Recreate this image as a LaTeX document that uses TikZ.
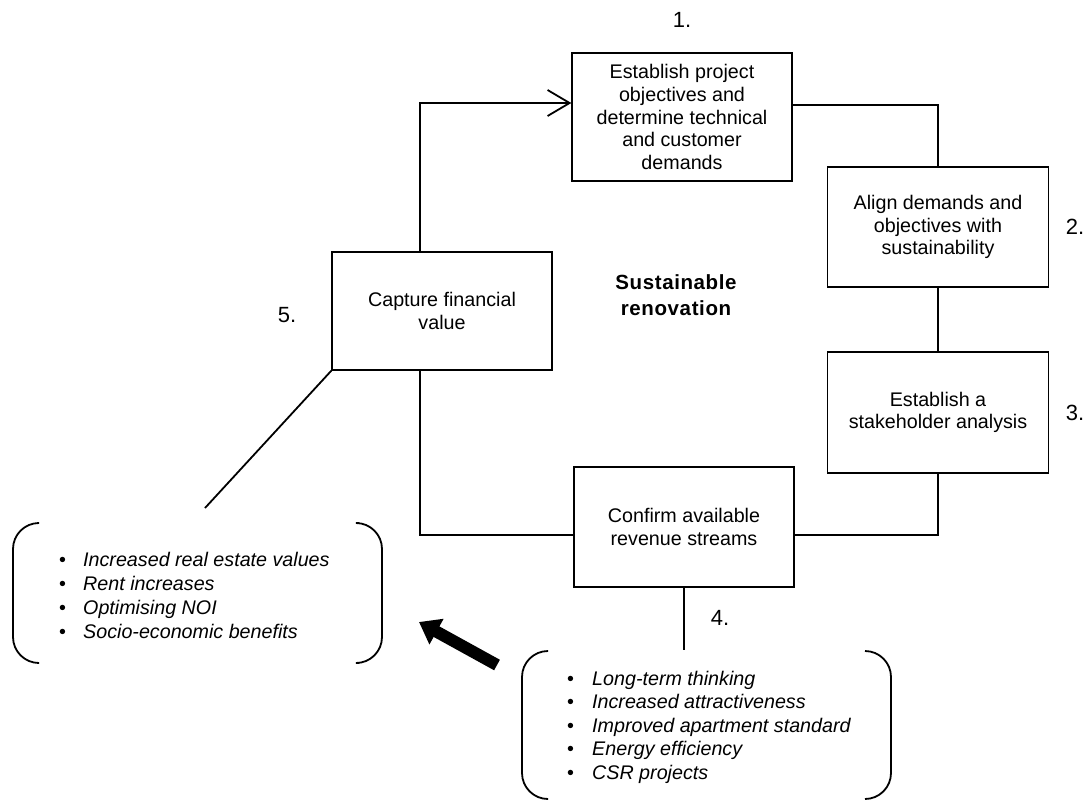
\documentclass[tikz,border=0pt]{standalone}
\usepackage{fontspec}
\setmainfont{Liberation Sans}
\usetikzlibrary{arrows.meta}
\begin{document}
\begin{tikzpicture}[x=1pt,y=-1pt,
  box/.style={draw, line width=1.3pt, align=center, inner sep=0pt,
    font=\fontsize{19.7}{22.7}\selectfont},
  flow/.style={line width=1.8pt},
  bracketline/.style={line width=1.8pt, rounded corners=26pt},
  listtext/.style={align=left, inner sep=0pt, anchor=west},
  num/.style={font=\fontsize{22}{24}\selectfont, inner sep=0pt}]
\useasboundingbox (0,0) rectangle (1090,801);

% boxes
\node[box, minimum width=220pt, minimum height=128pt] (b1) at (682,117)
  {Establish project\\objectives and\\determine technical\\and customer\\demands};
\node[box, minimum width=221pt, minimum height=120pt] (b2) at (938,227)
  {Align demands and\\objectives with\\sustainability};
\node[box, minimum width=221pt, minimum height=121pt] (b3) at (938,412.5)
  {Establish a\\stakeholder analysis};
\node[box, minimum width=220pt, minimum height=120pt] (b4) at (684,527)
  {Confirm available\\revenue streams};
\node[box, minimum width=220pt, minimum height=118pt] (b5) at (442,311)
  {Capture financial\\value};

% centre title
\node[align=center, inner sep=0pt,
  font=\fontsize{20.5}{26}\selectfont\bfseries\addfontfeature{LetterSpace=3}] (title) at (676,295)
  {Sustainable\\renovation};

% step numbers
\node[num] (n1) at (682,20) {1.};
\node[num] (n2) at (1075,227) {2.};
\node[num] (n3) at (1075,413) {3.};
\node[num] (n4) at (720,618) {4.};
\node[num] (n5) at (287,315) {5.};

% cycle connectors
\draw[flow, -{Straight Barb[length=22pt,width=26pt,line width=1.8pt]}]
  ([xshift=-22pt]b5.north) |- ([yshift=14pt]b1.west);
\draw[flow] ([yshift=12pt]b1.east) -| (b2.north);
\draw[flow] (b2.south) -- (b3.north);
\draw[flow] (b3.south) |- ([yshift=-8pt]b4.east);
\draw[flow] ([yshift=-8pt]b4.west) -| ([xshift=-22pt]b5.south);

% lists
\node[listtext, font=\fontsize{19.7}{24}\selectfont] (l1) at (59,595)
  {\makebox[24pt][l]{\textbullet}\textit{Increased real estate values}\\
   \makebox[24pt][l]{\textbullet}\textit{Rent increases}\\
   \makebox[24pt][l]{\textbullet}\textit{Optimising NOI}\\
   \makebox[24pt][l]{\textbullet}\textit{Socio-economic benefits}};
\node[listtext, font=\fontsize{19.7}{23.5}\selectfont] (l2) at (567,727)
  {\makebox[25pt][l]{\textbullet}\textit{Long-term thinking}\\
   \makebox[25pt][l]{\textbullet}\textit{Increased attractiveness}\\
   \makebox[25pt][l]{\textbullet}\textit{Improved apartment standard}\\
   \makebox[25pt][l]{\textbullet}\textit{Energy efficiency}\\
   \makebox[25pt][l]{\textbullet}\textit{CSR projects}};

% brackets
\draw[bracketline] (37,523) -- (13,523) -- (13,663) -- (37,663);
\draw[bracketline] (359,523) -- (382,523) -- (382,663) -- (359,663);
\draw[bracketline] (547,651) -- (522,651) -- (522,799) -- (547,799);
\draw[bracketline] (865,651) -- (891,651) -- (891,799) -- (865,799);

% links to the lists
\coordinate (c1) at (205,508);
\coordinate (c2) at (686,650);
\draw[flow] (b5.south west) -- (c1);
\draw[flow] (b4.south) -- (b4.south |- c2);

% thick arrow
\coordinate (t2) at (497,665);
\coordinate (t1) at (419,622);
\draw[line width=12pt, -{Triangle[length=20pt,width=28pt]}] (t2) -- (t1);
\end{tikzpicture}
\end{document}
